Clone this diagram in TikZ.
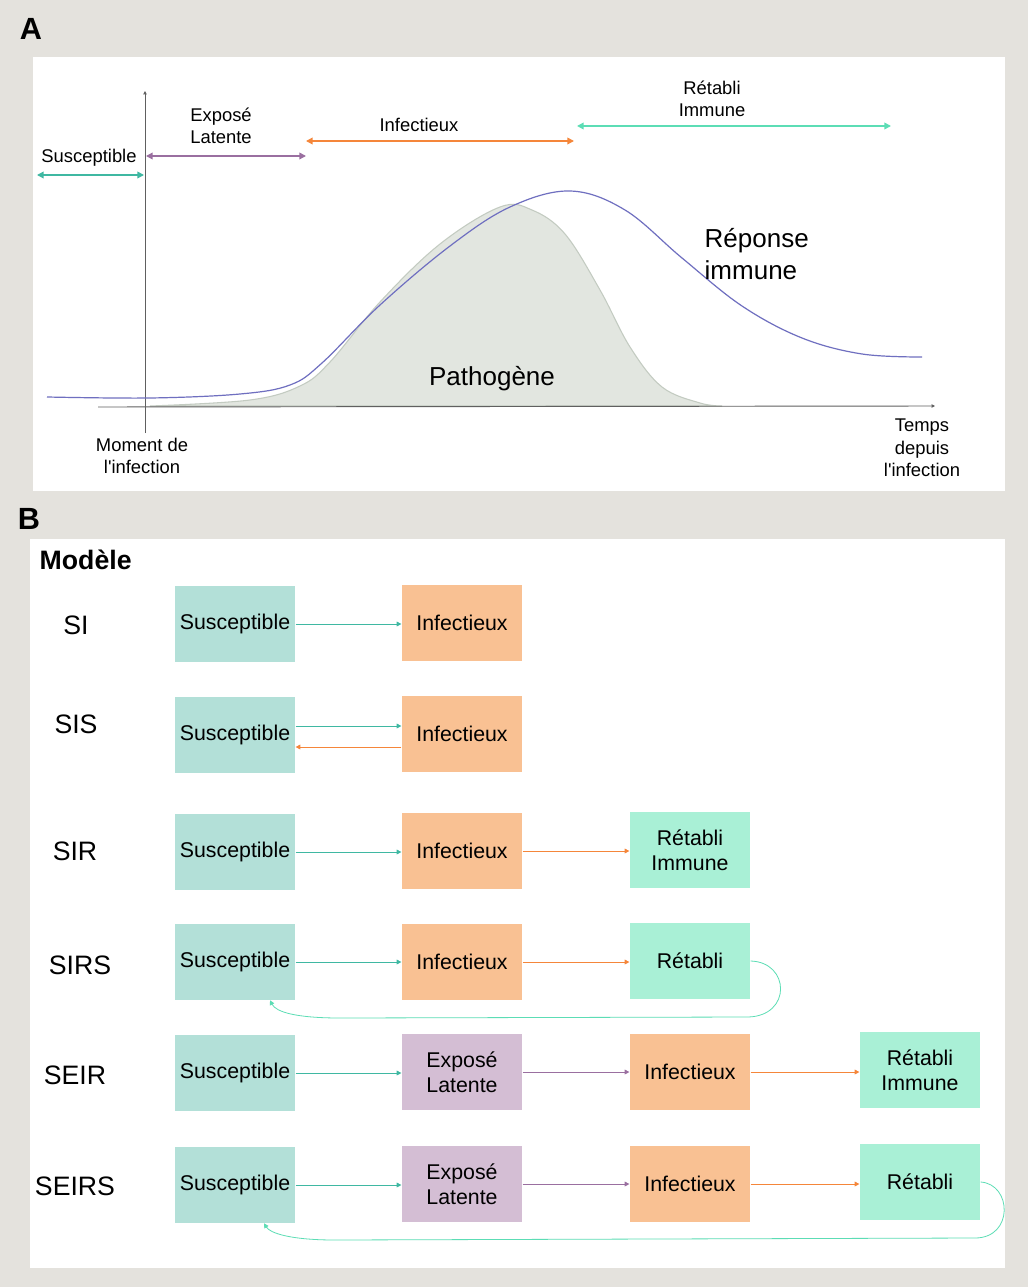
\documentclass[tikz,border=0pt]{standalone}
\usepackage{fontspec}
\newfontfamily\lib{Liberation Sans}
\usetikzlibrary{arrows.meta}
\definecolor{bgc}{HTML}{E4E2DD}
\definecolor{sbox}{HTML}{B3E0D8}
\definecolor{ibox}{HTML}{F9C193}
\definecolor{rbox}{HTML}{A9F0D6}
\definecolor{ebox}{HTML}{D4BED4}
\definecolor{tealc}{HTML}{3FB8A2}
\definecolor{orangec}{HTML}{F5863A}
\definecolor{purplec}{HTML}{9A6FA0}
\definecolor{mintc}{HTML}{5CDDB5}
\definecolor{bluec}{HTML}{6F6FC0}
\definecolor{pathf}{HTML}{E2E6E0}
\definecolor{pathd}{HTML}{C3CBC1}
\definecolor{axisc}{HTML}{606060}
\begin{document}
\begin{tikzpicture}[x=0.75pt,y=-0.75pt,
  every node/.style={font=\lib},
  boxn/.style={minimum width=90.5pt,minimum height=57pt,inner sep=0pt,align=center,
    font=\lib\fontsize{16}{18.5}\selectfont},
  smalltxt/.style={align=center,font=\lib\fontsize{13.8}{16.8}\selectfont},
  bigtxt/.style={align=left,font=\lib\fontsize{19.5}{24}\selectfont},
  rowlab/.style={font=\lib\fontsize{20}{24}\selectfont},
  panlab/.style={font=\lib\bfseries\fontsize{23}{26}\selectfont},
  dbl/.style={line width=1.1pt,{Triangle[length=5pt,width=5pt]}-{Triangle[length=5pt,width=5pt]}},
  sarr/.style={line width=0.6pt,-{Triangle[length=3.5pt,width=3.5pt]}},
  axis/.style={line width=0.7pt,draw=axisc,-{Triangle[length=2.5pt,width=2.5pt]}}
]
\useasboundingbox (0,0) rectangle (1028,1287);
\fill[bgc] (0,0) rectangle (1028,1287);
\fill[white] (33,57) rectangle (1005,491);
\fill[white] (30,539) rectangle (1005,1268);

\node[panlab] (labA) at (31,29) {A};
\node[panlab] (labB) at (29,519) {B};

% ---- Panel A ----
\filldraw[fill=pathf,draw=pathd,line width=0.8pt]
  plot[smooth,tension=0.6] coordinates {(150,406) (250,400) (300,386) (330,362) (380,302) (440,244) (500,207) (532,210) (565,234) (600,290) (630,347) (662,387) (700,403) (722,406)} -- cycle;

\coordinate (vbot) at (145,433);
\coordinate (vtop) at (145,91);
\coordinate (hleft) at (98,407);
\coordinate (hright) at (935,406);
\draw[axis] (vbot) -- (vtop);
\draw[axis] (hleft) -- (hright);

\draw[bluec,line width=0.9pt]
  plot[smooth,tension=0.6] coordinates {(47,397) (150,398) (240,394) (290,385) (322,363) (380,305) (450,246) (510,207) (570,191) (625,210) (682,258) (742,306) (802,338) (862,354) (922,357)};

\coordinate (s1a) at (37,175);
\coordinate (s1b) at (144,175);
\coordinate (e1a) at (146,156);
\coordinate (e1b) at (306,156);
\coordinate (i1a) at (306,141);
\coordinate (i1b) at (574,141);
\coordinate (r1a) at (577,126);
\coordinate (r1b) at (891,126);
\draw[dbl,tealc] (s1a) -- (s1b);
\draw[dbl,purplec] (e1a) -- (e1b);
\draw[dbl,orangec] (i1a) -- (i1b);
\draw[dbl,mintc] (r1a) -- (r1b);

\node[smalltxt] (tS) at (89,158) {Susceptible};
\node[smalltxt] (tE) at (221,126) {Exposé\\Latente};
\node[smalltxt] (tI) at (419,125) {Infectieux};
\node[smalltxt] (tR) at (712,99) {Rétabli\\Immune};
\node[bigtxt,anchor=west] (tRep) at (700,254) {Réponse\\immune};
\node[bigtxt] (tPath) at (492,379) {Pathogène};
\node[smalltxt] (tMom) at (142,456) {Moment de\\l'infection};
\node[smalltxt] (tTemps) at (922,448) {Temps\\depuis\\l'infection};

% ---- Panel B ----
\node[font=\lib\bfseries\fontsize{20}{24}\selectfont,anchor=west] (modele) at (35,560) {Modèle};
\node[rowlab] (lSI) at (76,625) {SI};
\node[rowlab] (lSIS) at (76,724) {SIS};
\node[rowlab] (lSIR) at (75,851) {SIR};
\node[rowlab] (lSIRS) at (80,965) {SIRS};
\node[rowlab] (lSEIR) at (75,1075) {SEIR};
\node[rowlab] (lSEIRS) at (75,1186) {SEIRS};

% SI
\node[boxn,fill=sbox] (s1) at (235,624) {Susceptible};
\node[boxn,fill=ibox] (i1) at (462,623) {Infectieux};
\draw[sarr,tealc] (s1.east) -- (s1.east -| i1.west);
% SIS
\node[boxn,fill=sbox] (s2) at (235,735) {Susceptible};
\node[boxn,fill=ibox] (i2) at (462,734) {Infectieux};
\coordinate (s2o) at ([yshift=6.75pt]s2.east);
\coordinate (s2i) at ([yshift=-9pt]s2.east);
\draw[sarr,tealc] (s2o) -- (s2o -| i2.west);
\draw[sarr,orangec] (s2i -| i2.west) -- (s2i);
% SIR
\node[boxn,fill=sbox] (s3) at (235,852) {Susceptible};
\node[boxn,fill=ibox] (i3) at (462,851) {Infectieux};
\node[boxn,fill=rbox] (r3) at (690,850) {Rétabli\\Immune};
\draw[sarr,tealc] (s3.east) -- (s3.east -| i3.west);
\draw[sarr,orangec] (i3.east) -- (i3.east -| r3.west);
% SIRS
\node[boxn,fill=sbox] (s4) at (235,962) {Susceptible};
\node[boxn,fill=ibox] (i4) at (462,962) {Infectieux};
\node[boxn,fill=rbox] (r4) at (690,961) {Rétabli};
\draw[sarr,tealc] (s4.east) -- (s4.east -| i4.west);
\draw[sarr,orangec] (i4.east) -- (i4.east -| r4.west);
\coordinate (s4in) at ([xshift=26.25pt]s4.south);
\draw[sarr,mintc] (r4.east) .. controls (790,962) and (792,1016) .. (748,1017) -- (340,1018) .. controls (296,1018) and (276,1012) .. (s4in);
% SEIR
\node[boxn,fill=sbox] (s5) at (235,1073) {Susceptible};
\node[boxn,fill=ebox] (e5) at (462,1072) {Exposé\\Latente};
\node[boxn,fill=ibox] (i5) at (690,1072) {Infectieux};
\node[boxn,fill=rbox] (r5) at (920,1070) {Rétabli\\Immune};
\draw[sarr,tealc] (s5.east) -- (s5.east -| e5.west);
\draw[sarr,purplec] (e5.east) -- (e5.east -| i5.west);
\draw[sarr,orangec] (i5.east) -- (i5.east -| r5.west);
% SEIRS
\node[boxn,fill=sbox] (s6) at (235,1185) {Susceptible};
\node[boxn,fill=ebox] (e6) at (462,1184) {Exposé\\Latente};
\node[boxn,fill=ibox] (i6) at (690,1184) {Infectieux};
\node[boxn,fill=rbox] (r6) at (920,1182) {Rétabli};
\draw[sarr,tealc] (s6.east) -- (s6.east -| e6.west);
\draw[sarr,purplec] (e6.east) -- (e6.east -| i6.west);
\draw[sarr,orangec] (i6.east) -- (i6.east -| r6.west);
\coordinate (s6in) at ([xshift=21.75pt]s6.south);
\draw[sarr,mintc] (r6.east) .. controls (1012,1184) and (1014,1238) .. (975,1238) -- (335,1240) .. controls (290,1240) and (270,1233) .. (s6in);
\end{tikzpicture}
\end{document}
